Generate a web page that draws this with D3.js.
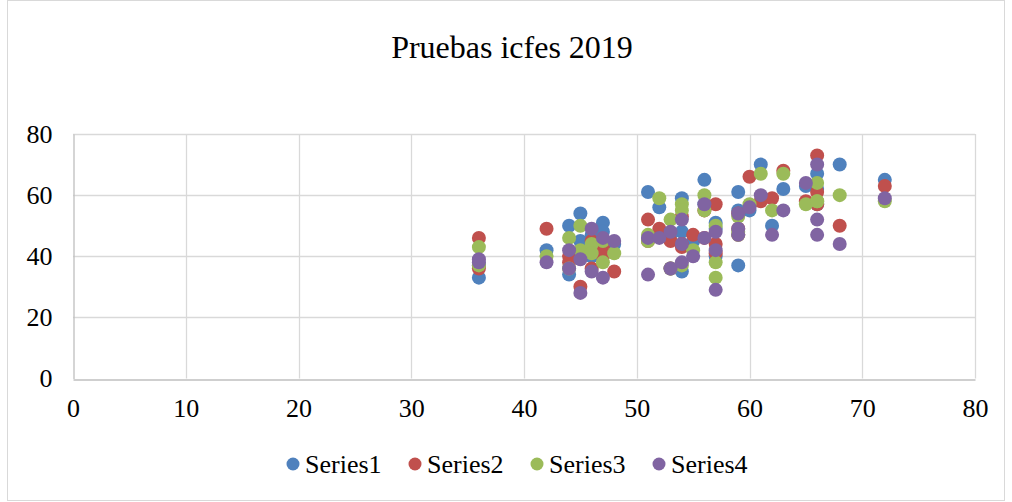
<!DOCTYPE html>
<meta charset="utf-8">
<style>
    body {
        margin: 0;
    }
    svg text {
        font-family: "Liberation Serif", "Times New Roman", serif;
        fill: #000;
    }
</style>
<body>
<script src="https://cdn.jsdelivr.net/npm/d3@7"></script>
<script>

// x value shared by every series, then one y value per series
var xVals = [36,36,42,44,44,45,45,46,46,47,47,48,51,51,52,53,53,54,54,54,55,56,56,57,57,57,59,59,59,60,61,62,63,65,66,66,66,68,72];
var series1 = [33,37,42,50,34,54,45,47,40,51,48,44,61,46,56,47,36,59,48,35,45,65,57,51,49,40,61,55,37,55,70,50,62,63,67,62,57,70,65];
var series2 = [46,36,49,40,38,30,41,45,36,43,40,35,52,45,49,45,36,53,43,44,47,46,55,57,44,41,54,49,47,66,58,59,68,58,73,61,57,50,63];
var series3 = [43,37,40,46,36,50,42,44,41,45,38,41,47,45,59,52,36,57,55,37,42,60,55,50,38,33,53,48,47,57,67,55,67,57,64,58,58,60,58];
var series4 = [39,38,38,42,36,28,39,49,35,46,33,45,46,34,46,48,36,52,44,38,40,57,46,48,42,29,54,49,47,56,60,47,55,64,70,52,47,44,59];

var seriesNames = ["Series1", "Series2", "Series3", "Series4"];
var colors = ["#4f81bd", "#c0504d", "#9bbb59", "#8064a2"];
var xTicks = [0, 10, 20, 30, 40, 50, 60, 70, 80];
var yTicks = [0, 20, 40, 60, 80];

var width = 1012, height = 502;
var margin = {top: 134, right: 37, bottom: 123.5, left: 73};

var svg = d3.select("body").append("svg")
    .attr("width", width)
    .attr("height", height);

// chart border
svg.append("rect")
    .attr("x", 7.5).attr("y", 0.5)
    .attr("width", 997).attr("height", 500)
    .attr("fill", "#fff")
    .attr("stroke", "#d9d9d9");

var x = d3.scaleLinear().domain([0, 80]).range([margin.left, width - margin.right]);
var y = d3.scaleLinear().domain([0, 80]).range([height - margin.bottom, margin.top]);

// gridlines
svg.append("g").selectAll("line")
    .data(yTicks.slice(1))
  .enter().append("line")
    .attr("x1", x(0)).attr("x2", x(80))
    .attr("y1", function(d) { return Math.round(y(d)) + 0.5; })
    .attr("y2", function(d) { return Math.round(y(d)) + 0.5; })
    .attr("stroke", "#d9d9d9").attr("stroke-width", 1.3);

svg.append("g").selectAll("line")
    .data(xTicks.slice(1))
  .enter().append("line")
    .attr("y1", y(0)).attr("y2", y(80))
    .attr("x1", function(d) { return Math.round(x(d)) + 0.5; })
    .attr("x2", function(d) { return Math.round(x(d)) + 0.5; })
    .attr("stroke", "#d9d9d9").attr("stroke-width", 1.3);

// axes
var xAxis = svg.append("g")
    .attr("transform", "translate(0," + (Math.round(y(0)) + 0.5) + ")")
    .call(d3.axisBottom(x).tickValues(xTicks).tickSize(0).tickPadding(19));
var yAxis = svg.append("g")
    .attr("transform", "translate(" + (Math.round(x(0)) + 0.5) + ",0)")
    .call(d3.axisLeft(y).tickValues(yTicks).tickSize(0).tickPadding(21));

[xAxis, yAxis].forEach(function(g) {
    g.attr("font-family", null).attr("font-size", null);
    g.select(".domain").attr("stroke", "#bfbfbf").attr("stroke-width", 1.3);
    g.selectAll("text").style("font-size", "26px");
});

// title
svg.append("text")
    .attr("x", 512).attr("y", 58)
    .attr("text-anchor", "middle")
    .style("font-size", "32px")
    .text("Pruebas icfes 2019");

// points
var allSeries = [series1, series2, series3, series4];
allSeries.forEach(function(vals, i) {
    svg.append("g").selectAll("circle")
        .data(vals)
      .enter().append("circle")
        .attr("cx", function(d, j) { return x(xVals[j]); })
        .attr("cy", function(d) { return y(d); })
        .attr("r", 7)
        .style("fill", colors[i]);
});

// legend
var legendX = [293, 415, 537, 659];
var legend = svg.append("g").selectAll("g")
    .data(seriesNames)
  .enter().append("g")
    .attr("transform", function(d, i) { return "translate(" + legendX[i] + ",464)"; });

legend.append("circle")
    .attr("r", 6.5)
    .style("fill", function(d, i) { return colors[i]; });

legend.append("text")
    .attr("x", 12).attr("y", 9)
    .style("font-size", "26px")
    .text(function(d) { return d; });

</script>
</body>
